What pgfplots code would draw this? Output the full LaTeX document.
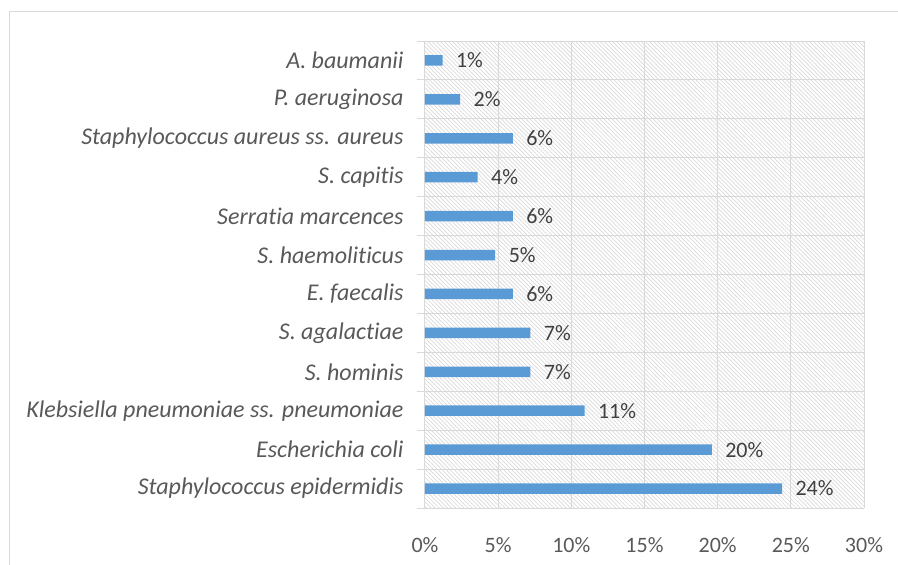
\documentclass[border=0pt]{standalone}
\usepackage{fontspec}
\setmainfont{Carlito}[Ligatures={NoCommon}]
\usepackage{pgfplots}
\pgfplotsset{compat=1.18}
\usetikzlibrary{patterns.meta}
\definecolor{barblue}{HTML}{5B9BD5}
\definecolor{gridgray}{HTML}{D9D9D9}
\definecolor{labgray}{HTML}{595959}
\definecolor{catgray}{HTML}{404040}
\begin{document}
\begin{tikzpicture}[x=1pt,y=1pt]
\path[use as bounding box] (0,0) rectangle (898,-565);
\draw[gridgray, line width=1pt] (9,-600) -- (9,-11) -- (950,-11);
\begin{axis}[
  at={(425pt,-41pt)}, anchor=north west,
  width=439pt, height=467pt, scale only axis,
  /pgf/number format/assume math mode=true,
  xbar, bar width=10.5pt,
  xmin=0, xmax=30, ymin=-0.5, ymax=11.5,
  xtick={0,5,...,30},
  xticklabel={\pgfmathprintnumber{\tick}\%},
  xticklabel style={font=\fontsize{22}{24}\selectfont, text=labgray, yshift=-26pt},
  ytick={0,...,11},
  yticklabels={Staphylococcus epidermidis, Escherichia coli, Klebsiella pneumoniae ss. pneumoniae, S. hominis, S. agalactiae, E. faecalis, S. haemoliticus, Serratia marcences, S. capitis, Staphylococcus aureus ss. aureus, P. aeruginosa, A. baumanii},
  yticklabel style={font=\fontsize{24}{26}\selectfont\itshape, text=labgray, xshift=-18pt},
  minor ytick={-0.5,0.5,...,11.5},
  major tick length=0pt,
  minor tick length=8pt,
  tick align=outside,
  tick style={gridgray, line width=1pt},
  minor tick style={gridgray, line width=1pt},
  xmajorgrids, yminorgrids,
  grid style={gridgray, line width=1pt},
  axis line style={gridgray, line width=1pt},
  axis x line*=bottom, axis y line*=left,
  axis background/.style={pattern={Lines[angle=-45, distance=2.9pt, line width=0.7pt]}, pattern color=gray!30},
  nodes near coords={\pgfmathprintnumber[fixed, precision=0]{\pgfplotspointmeta}\%},
  nodes near coords style={font=\fontsize{22}{24}\selectfont, text=catgray, anchor=west, xshift=10pt},
  clip=false,
]
\addplot[fill=barblue, draw=none] coordinates {
(24.4,0) (19.6,1) (10.9,2) (7.2,3) (7.2,4) (6.0,5) (4.8,6) (6.0,7) (3.6,8) (6.0,9) (2.4,10) (1.2,11)};
\end{axis}
\end{tikzpicture}
\end{document}
